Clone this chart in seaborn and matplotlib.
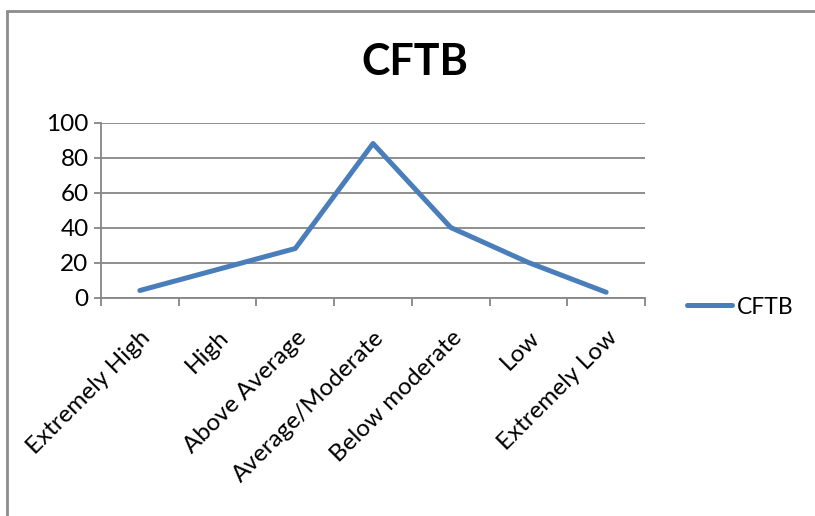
import matplotlib
matplotlib.use("Agg")
import matplotlib.pyplot as plt
from matplotlib.lines import Line2D
import seaborn as sns
import pandas as pd

# data
levels = ["Extremely High", "High", "Above Average", "Average/Moderate",
          "Below moderate", "Low", "Extremely Low"]
cftb = [4, 16, 28, 88, 40, 20, 3]
y_ticks = [0, 20, 40, 60, 80, 100]

df = pd.DataFrame({"Level": levels, "CFTB": cftb})

sns.set_style("white")
plt.rcParams["font.family"] = ["Lato", "DejaVu Sans"]
plt.rcParams["text.color"] = "black"
plt.rcParams["xtick.labelcolor"] = "black"
plt.rcParams["ytick.labelcolor"] = "black"

W, H = 815, 516
fig = plt.figure(figsize=(W / 100, H / 100), dpi=100)
ax = fig.add_axes([101 / W, (H - 297.5) / H, (645 - 101) / W, (297.5 - 122.5) / H])

grey = "#868686"
blue = "#4A7EBB"

sns.lineplot(data=df, x="Level", y="CFTB", ax=ax, color=blue, lw=3.6,
             sort=False, label="CFTB", solid_capstyle="round")

ax.set_xlim(-0.5, len(levels) - 0.5)
ax.set_ylim(0, 100)
ax.set_yticks(y_ticks)
ax.set_xticks(range(len(levels)))
ax.set_xticks([i - 0.5 for i in range(len(levels) + 1)], minor=True)
ax.set_xlabel("")
ax.set_ylabel("")

ax.yaxis.grid(True, color=grey, lw=1.3)
ax.set_axisbelow(True)
for side in ["top", "right"]:
    ax.spines[side].set_visible(False)
for side in ["left", "bottom"]:
    ax.spines[side].set_color(grey)
    ax.spines[side].set_linewidth(1.3)

ax.tick_params(axis="y", length=5, width=1.3, color=grey, labelsize=17.5, pad=4, left=True)
ax.tick_params(axis="x", which="major", length=0, labelsize=17.5, pad=21)
ax.tick_params(axis="x", which="minor", length=6, width=1.3, color=grey, bottom=True)
for lbl in ax.get_xticklabels():
    lbl.set_rotation(45)
    lbl.set_ha("right")
    lbl.set_va("top")
    lbl.set_rotation_mode("anchor")

ax.get_legend().remove()
fig.legend(handles=[Line2D([], [], color=blue, lw=3.6)], labels=["CFTB"],
           loc="center left", bbox_to_anchor=(666 / W, 1 - 307 / H),
           frameon=False, fontsize=16.5, handlelength=2.0, handletextpad=0.2)

fig.text(415 / W, 1 - 62 / H, "CFTB", ha="center", va="center",
         fontsize=31, fontweight="bold", color="black")

# outer chart border (left and top visible)
fig.add_artist(Line2D([7 / W, 7 / W], [0, 1 - 11 / H], transform=fig.transFigure,
                      color="#8c8c8c", lw=2))
fig.add_artist(Line2D([7 / W, 1], [1 - 11 / H, 1 - 11 / H], transform=fig.transFigure,
                      color="#8c8c8c", lw=2))

fig.savefig("out.png", dpi=100)
